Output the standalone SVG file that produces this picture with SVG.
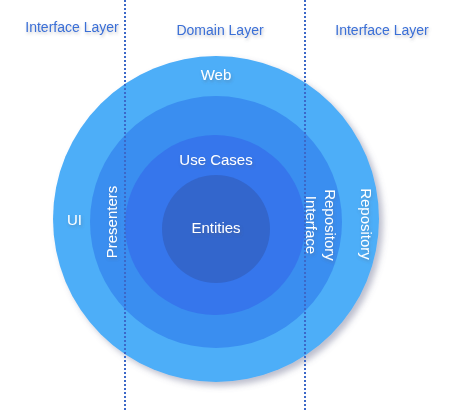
<svg xmlns="http://www.w3.org/2000/svg" width="450" height="410" viewBox="0 0 450 410">
<style>
.lbl{font-family:"Liberation Sans",Arial,sans-serif;font-size:15px;fill:#ffffff;text-anchor:middle}
.layer{font-family:"Liberation Sans",Arial,sans-serif;font-size:14px;fill:#3a6fd6;text-anchor:middle}
.div{stroke:#3c68c8;stroke-width:2;stroke-dasharray:2 2;fill:none}
</style>
<defs>
<filter id="sh" x="-20%" y="-20%" width="140%" height="140%">
<feDropShadow dx="4" dy="4" stdDeviation="3" flood-color="#6a6f90" flood-opacity="0.45"/>
</filter>
<filter id="tsh" x="-20%" y="-50%" width="140%" height="200%">
<feDropShadow dx="1" dy="2" stdDeviation="1.5" flood-color="#5a6070" flood-opacity="0.35"/>
</filter>
</defs>
<g id="layer-labels" filter="url(#tsh)">
<text class="layer" x="72" y="32">Interface Layer</text>
<text class="layer" x="220" y="35">Domain Layer</text>
<text class="layer" x="382" y="35">Interface Layer</text>
</g>
<g id="outer-ring">
<circle cx="216" cy="219" r="163" fill="#4daef8" filter="url(#sh)"/>
</g>
<g id="interface-adapters">
<circle cx="216" cy="222" r="126" fill="#3a8ef0"/>
</g>
<g id="use-cases">
<circle cx="215" cy="225" r="90" fill="#3676ec"/>
</g>
<g id="entities">
<circle cx="216" cy="229" r="54" fill="#3366cc"/>
</g>
<g id="connectors">
<line class="div" x1="125" y1="0" x2="125" y2="410"/>
<line class="div" x1="305" y1="0" x2="305" y2="410"/>
</g>
<g id="ring-labels" filter="url(#tsh)">
<text class="lbl" x="216" y="80">Web</text>
<text class="lbl" x="74.5" y="225">UI</text>
<text class="lbl" transform="translate(117 222) rotate(-90)">Presenters</text>
<text class="lbl" transform="translate(361 224) rotate(90)">Repository</text>
<text class="lbl" transform="translate(325 225) rotate(90)">Repository</text>
<text class="lbl" transform="translate(306 225) rotate(90)">Interface</text>
<text class="lbl" x="216" y="165">Use Cases</text>
<text class="lbl" x="216" y="233">Entities</text>
</g>
</svg>
